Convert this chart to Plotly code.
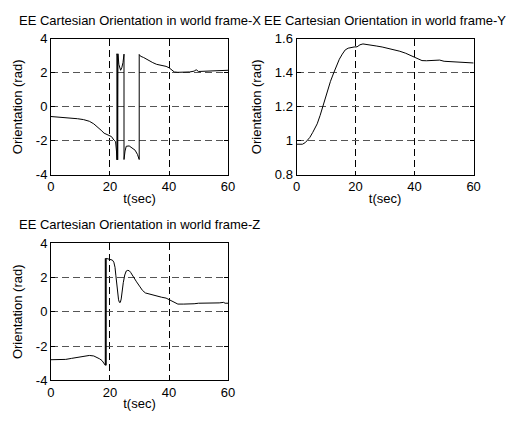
import plotly.graph_objects as go

# End-effector orientation (rad) versus time (s), one panel per axis
t_x = [0, 3, 6, 9, 11, 13, 14.5, 16, 17, 18, 19.3, 20.5, 21.3, 21.9, 22.2, 22.35, 22.35, 22.5, 22.6, 22.7,
       23.0, 23.3, 23.6, 24.0, 24.4, 24.75, 24.75, 25.1, 25.5, 26.5, 27.5, 28.5, 29.3, 29.9, 29.9, 30.3,
       31.4, 32.5, 33.6, 34.5, 35.8, 37, 38, 39, 40, 41, 41.8, 43, 45, 47, 48.5, 49.2, 50, 52, 55, 58, 60]
roll_x = [-0.57, -0.6, -0.65, -0.7, -0.75, -0.85, -1.0, -1.2, -1.38, -1.55, -1.65, -1.75, -1.95, -2.05, -2.6,
          -3.12, 3.12, 3.0, -3.12, 3.12, 2.5, 2.25, 2.15, 2.3, 2.6, 3.1, -3.1, -2.6, -2.32, -2.3, -2.4, -2.55,
          -2.8, -3.1, 3.08, 2.98, 2.9, 2.78, 2.68, 2.6, 2.5, 2.46, 2.43, 2.38, 2.3, 2.18, 2.05, 2.03, 2.02,
          2.05, 2.1, 2.18, 2.08, 2.1, 2.12, 2.13, 2.15]

t_y = [0, 1, 2, 3, 3.5, 4.5, 5.5, 7, 8, 8.9, 9.7, 10.5, 11.5, 12.6, 13.5, 14.5, 15.5, 16.5, 17.5, 18.5,
       19.5, 20.5, 21.5, 22.5, 23.5, 25, 27, 29, 31, 33, 35, 37, 39, 40.5, 41.5, 42.5, 44, 46, 47.5, 48.5,
       50, 52, 54, 56, 58, 60]
pitch_y = [0.98, 0.978, 0.98, 0.99, 1.0, 1.02, 1.05, 1.1, 1.15, 1.2, 1.25, 1.3, 1.35, 1.4, 1.44, 1.48,
           1.51, 1.535, 1.545, 1.55, 1.552, 1.553, 1.565, 1.57, 1.568, 1.565, 1.558, 1.552, 1.545, 1.537,
           1.527, 1.515, 1.5, 1.49, 1.48, 1.472, 1.471, 1.471, 1.472, 1.475, 1.468, 1.466, 1.462, 1.46,
           1.458, 1.458]

t_z = [0, 3, 5, 7, 9, 11, 13, 14.5, 15.5, 16.5, 17.3, 18.0, 18.4, 18.4, 18.55, 18.55, 18.7, 18.7, 19.2,
       20, 20.8, 21.3, 21.7, 22.0, 22.3, 22.6, 22.9, 23.2, 23.5, 23.8, 24.1, 24.5, 25.0, 25.5, 26.0, 26.5,
       27.0, 27.5, 28.2, 29, 30, 31, 32, 33, 34.5, 36, 37.5, 39, 40, 41, 42, 43, 45, 47, 48.5, 50, 52, 55,
       57, 58.5, 59, 60]
yaw_z = [-2.8, -2.8, -2.78, -2.72, -2.65, -2.6, -2.55, -2.58, -2.65, -2.75, -2.85, -3.0, -3.12, 3.12, 3.1,
         -3.12, -3.12, 3.12, 3.1, 3.08, 3.02, 2.9, 2.6, 2.1, 1.5, 1.0, 0.7, 0.55, 0.55, 0.75, 1.2, 1.7, 2.15,
         2.38, 2.42, 2.4, 2.3, 2.15, 1.95, 1.75, 1.5, 1.25, 1.1, 1.05, 0.98, 0.9, 0.85, 0.8, 0.72, 0.65,
         0.55, 0.45, 0.45, 0.45, 0.47, 0.5, 0.5, 0.5, 0.52, 0.55, 0.5, 0.5]

titles = ["EE Cartesian Orientation in world frame-X",
          "EE Cartesian Orientation in world frame-Y",
          "EE Cartesian Orientation in world frame-Z"]
x_ticks = [0, 20, 40, 60]
y_ticks_xz = [-4, -2, 0, 2, 4]
y_ticks_y = [0.8, 1.0, 1.2, 1.4, 1.6]
y_ticktext_y = ["0.8", "1", "1.2", "1.4", "1.6"]

W, H = 509, 423
FONT = "Liberation Sans, Arial, sans-serif"
FS = 13

# pixel boxes of the three axes: (left, right, top, bottom)
boxes = [(48, 229, 33, 174), (299, 480, 33, 174), (48, 229, 245, 387)]

fig = go.Figure()
series = [(t_x, roll_x), (t_y, pitch_y), (t_z, yaw_z)]
for i, (tt, vv) in enumerate(series):
    sfx = "" if i == 0 else str(i + 1)
    fig.add_trace(go.Scatter(x=tt, y=vv, mode="lines", xaxis="x" + sfx, yaxis="y" + sfx,
                             line=dict(color="black", width=1), showlegend=False))

layout = dict(width=W, height=H, margin=dict(l=0, r=0, t=0, b=0),
              paper_bgcolor="white", plot_bgcolor="white",
              font=dict(family=FONT, size=FS, color="black"))
annotations = []
for i, (l, r, t, b) in enumerate(boxes):
    sfx = "" if i == 0 else str(i + 1)
    xd = [l / W, r / W]
    yd = [1 - b / H, 1 - t / H]
    common = dict(showline=True, linecolor="black", linewidth=1, mirror="ticks",
                  ticks="inside", ticklen=4, tickcolor="black", zeroline=False,
                  showgrid=True, griddash="7px,4px", tickfont=dict(family=FONT, size=FS))
    layout["xaxis" + sfx] = dict(domain=xd, range=[0, 60], tickvals=x_ticks,
                                 anchor="y" + sfx, gridcolor="black", gridwidth=1,
                                 title=dict(text="t(sec)", standoff=0,
                                            font=dict(family=FONT, size=FS)),
                                 **common)
    if i == 1:
        yrange, yt, ytt = [0.8, 1.6], y_ticks_y, y_ticktext_y
    else:
        yrange, yt, ytt = [-4, 4], y_ticks_xz, [str(v) for v in y_ticks_xz]
    layout["yaxis" + sfx] = dict(domain=yd, range=yrange, tickvals=yt, ticktext=ytt,
                                 anchor="x" + sfx, gridcolor="#555555", gridwidth=1.3,
                                 title=dict(text="Orientation (rad)", standoff=10,
                                            font=dict(family=FONT, size=FS)),
                                 **common)
    annotations.append(dict(text=titles[i], x=(l + r) / 2 / W, y=1 - (t - 19) / H,
                            xref="paper", yref="paper", xanchor="center", yanchor="middle",
                            showarrow=False, font=dict(family=FONT, size=FS)))
layout["annotations"] = annotations
fig.update_layout(**layout)
fig.write_html("out.html")
